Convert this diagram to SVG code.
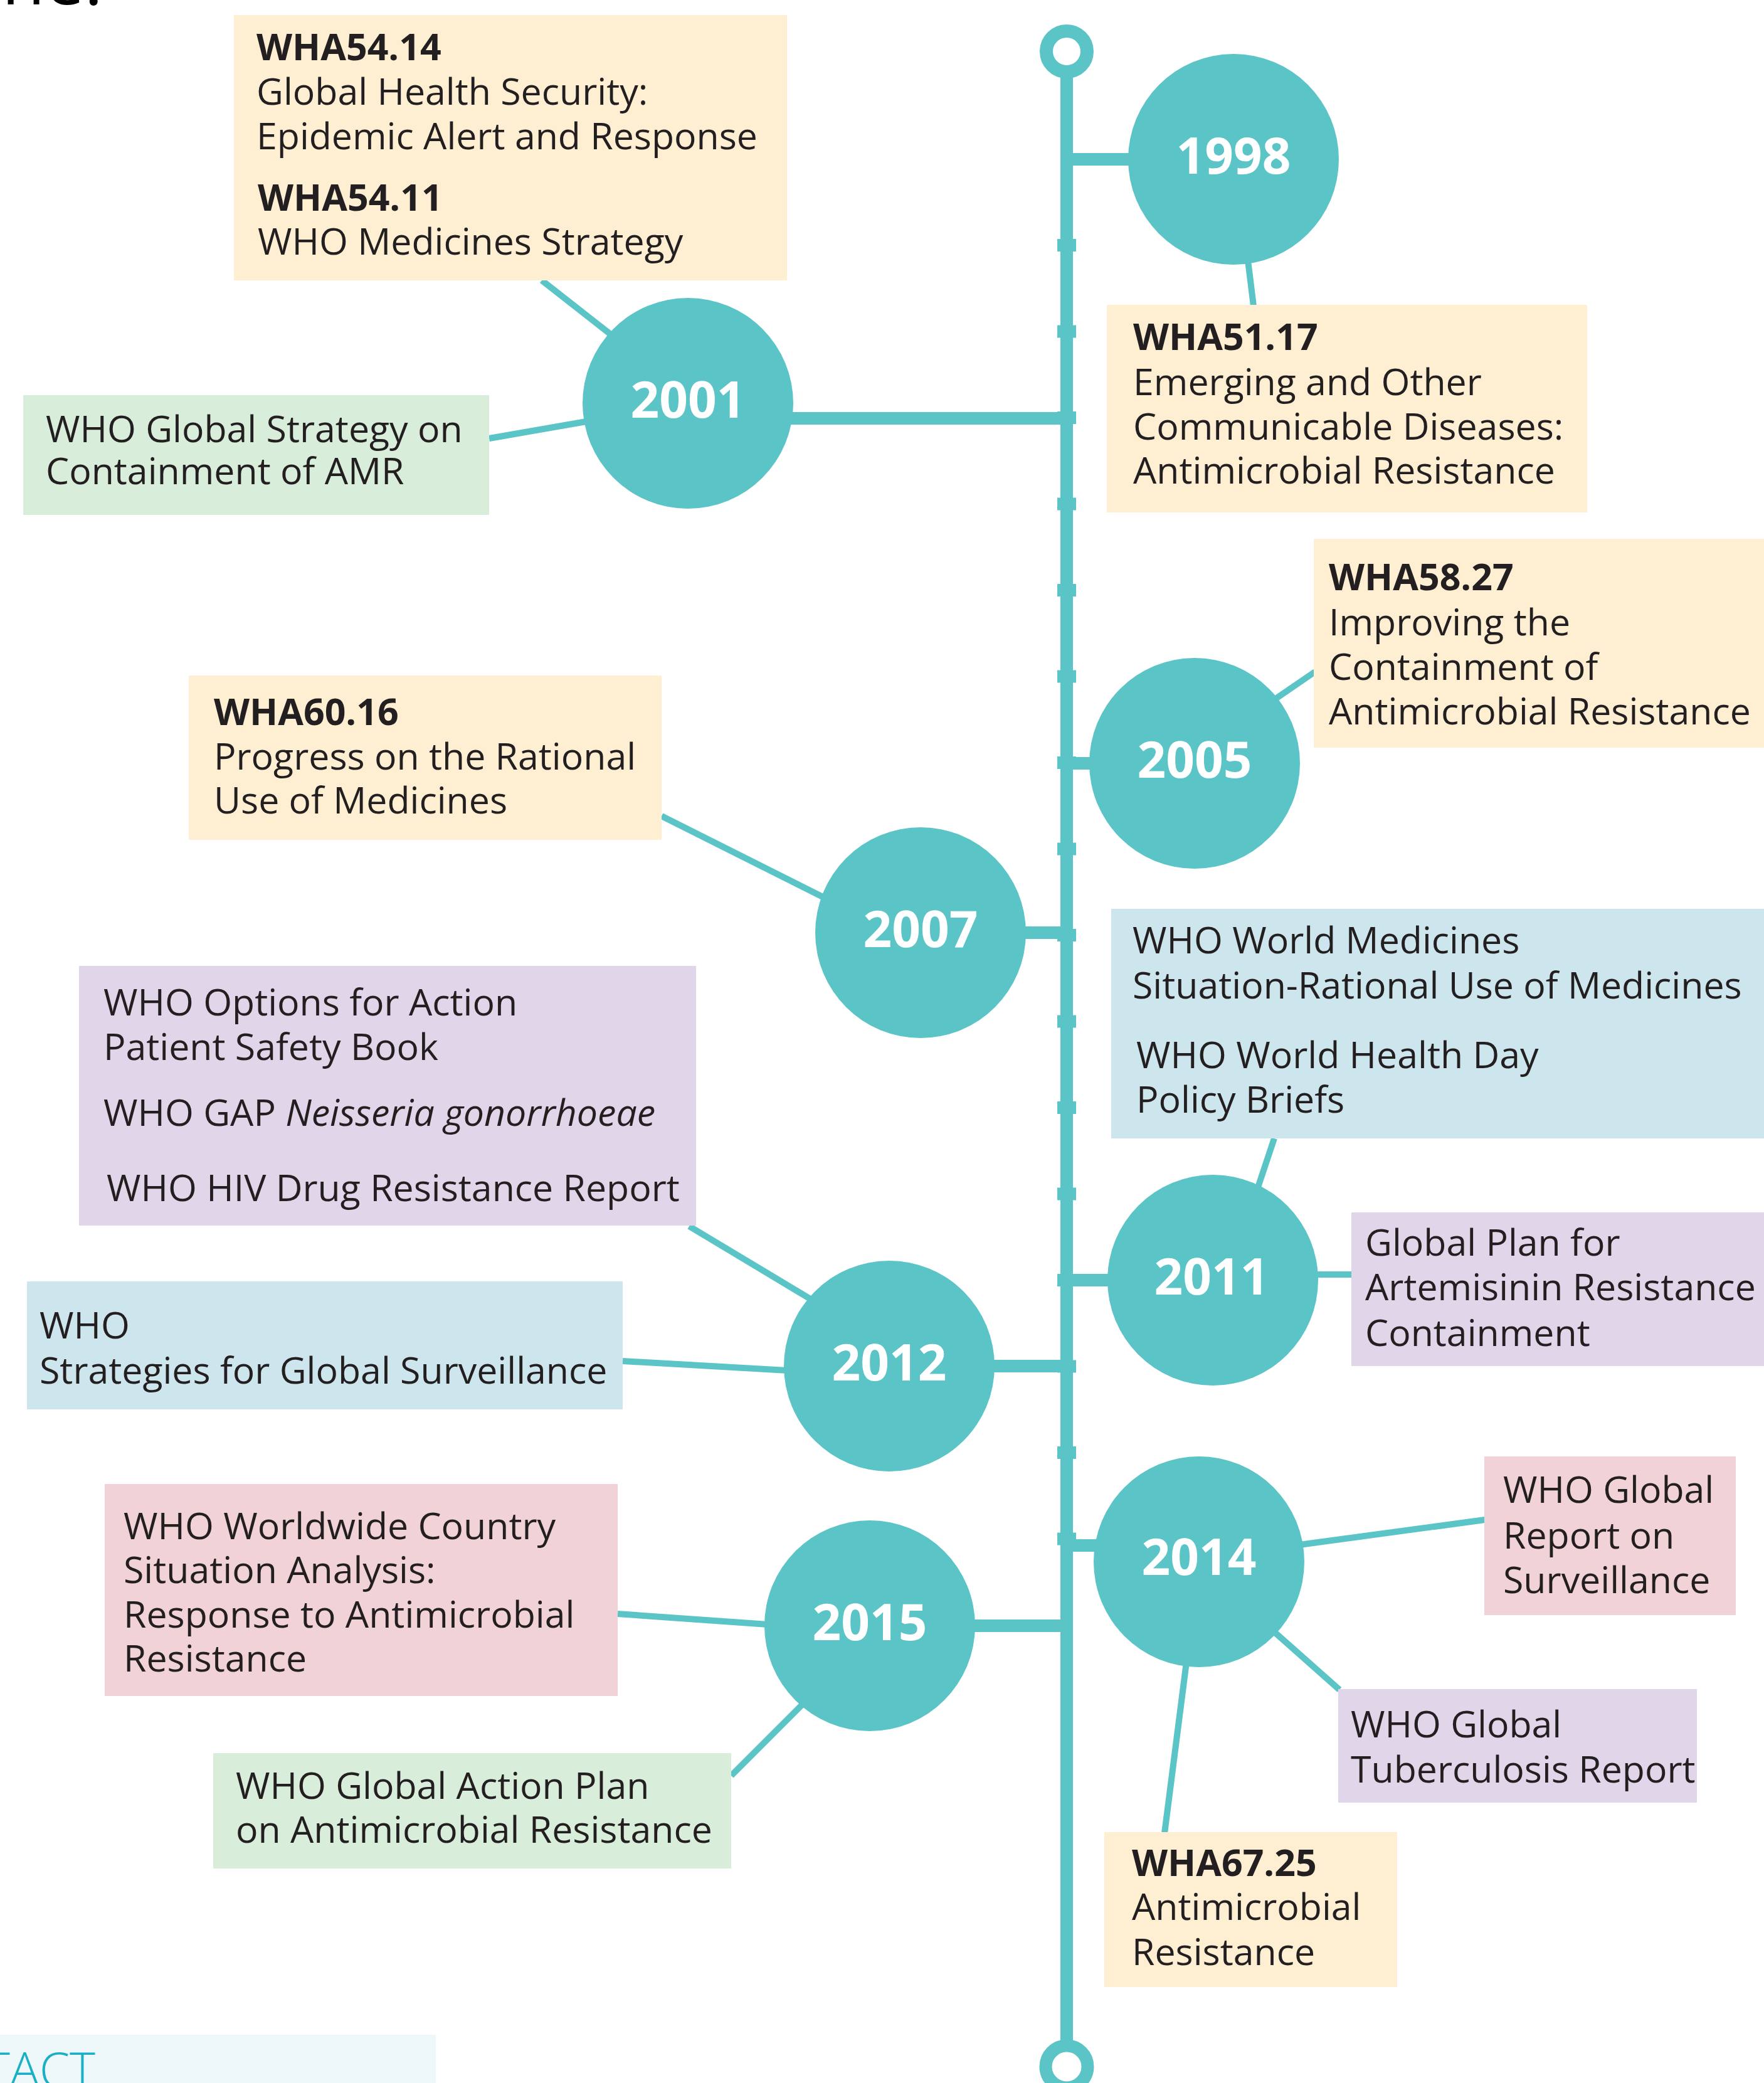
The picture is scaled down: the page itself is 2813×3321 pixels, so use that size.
<svg xmlns="http://www.w3.org/2000/svg" width="2813" height="3321" viewBox="0 0 2813 3321">
  <style>
    .teal { fill: #5BC4C6; }
    .link { stroke: #5BC4C6; stroke-width: 10; fill: none; }
    .bar { fill: #5BC4C6; }
    .peach { fill: #FEEFD3; }
    .green { fill: #D8EEDB; }
    .blue { fill: #CDE5EC; }
    .lilac { fill: #E1D6E9; }
    .pink { fill: #F1D2D6; }
    .t { font-family: "Open Sans", "Noto Sans", sans-serif; font-size: 59px; fill: #231F20; }
    .b { font-weight: 700; }
    .yr { font-family: "Open Sans", "Noto Sans", sans-serif; font-size: 80px; font-weight: 700; fill: #FFFFFF; text-anchor: middle; }
  </style>

  <!-- heading fragment at the top edge -->
  <text x="3" y="7" font-family="Open Sans, Noto Sans, sans-serif" font-size="112" fill="#000000">ne:</text>

  <!-- contact panel at the bottom edge -->
  <rect x="0" y="3244" width="695" height="77" fill="#EEF7F9"/>
  <text x="152" y="3328" font-family="Open Sans, Noto Sans, sans-serif" font-size="78" font-weight="300" fill="#19AFC4" text-anchor="end">TACT</text>

  <!-- timeline spine -->
  <g id="spine">
    <rect x="1691" y="120" width="20" height="3136" class="bar"/>
    <circle cx="1701" cy="82" r="32.5" fill="none" stroke="#5BC4C6" stroke-width="21"/>
    <circle cx="1701" cy="3295" r="33.5" fill="none" stroke="#5BC4C6" stroke-width="20"/>
    <g class="bar">
      <rect x="1686" y="381" width="30" height="20"/>
      <rect x="1686" y="518.5" width="30" height="20"/>
      <rect x="1686" y="656" width="30" height="20"/>
      <rect x="1686" y="793.5" width="30" height="20"/>
      <rect x="1686" y="931" width="30" height="20"/>
      <rect x="1686" y="1068.5" width="30" height="20"/>
      <rect x="1686" y="1206" width="30" height="20"/>
      <rect x="1686" y="1343.5" width="30" height="20"/>
      <rect x="1686" y="1481" width="30" height="20"/>
      <rect x="1686" y="1618.5" width="30" height="20"/>
      <rect x="1686" y="1756" width="30" height="20"/>
      <rect x="1686" y="1893.5" width="30" height="20"/>
      <rect x="1686" y="2031" width="30" height="20"/>
      <rect x="1686" y="2168.5" width="30" height="20"/>
      <rect x="1686" y="2306" width="30" height="20"/>
      <rect x="1686" y="2443.5" width="30" height="20"/>
    </g>
  </g>

  <!-- connectors: spine-to-year bars and year-to-box links -->
  <g id="connectors">
    <rect class="bar" x="1701" y="244" width="110" height="20"/>
    <rect class="bar" x="1255" y="657" width="446" height="20"/>
    <rect class="bar" x="1701" y="1207" width="50" height="20"/>
    <rect class="bar" x="1625" y="1477" width="76" height="20"/>
    <rect class="bar" x="1701" y="2031" width="75" height="20"/>
    <rect class="bar" x="1575" y="2168" width="126" height="20"/>
    <rect class="bar" x="1701" y="2454" width="55" height="20"/>
    <rect class="bar" x="1545" y="2582" width="156" height="20"/>

    <line class="link" x1="1990" y1="415" x2="1999" y2="488"/>
    <line class="link" x1="864" y1="447" x2="975" y2="534"/>
    <line class="link" x1="780" y1="699" x2="935" y2="672"/>
    <line class="link" x1="2030" y1="1117" x2="2097" y2="1071"/>
    <line class="link" x1="1055" y1="1301" x2="1316" y2="1432"/>
    <line class="link" x1="2032" y1="1815" x2="2005" y2="1896"/>
    <line class="link" x1="2095" y1="2032" x2="2157" y2="2032"/>
    <line class="link" x1="1099" y1="1955" x2="1294" y2="2072"/>
    <line class="link" x1="993" y1="2170" x2="1256" y2="2185"/>
    <line class="link" x1="2072" y1="2463" x2="2368" y2="2423"/>
    <line class="link" x1="2030" y1="2600" x2="2136" y2="2694"/>
    <line class="link" x1="1892" y1="2650" x2="1857" y2="2923"/>
    <line class="link" x1="985" y1="2573" x2="1225" y2="2590"/>
    <line class="link" x1="1166" y1="2831" x2="1283" y2="2714"/>
  </g>

  <!-- year nodes -->
  <g id="year-1998"><circle class="teal" cx="1967" cy="254" r="168"/><text class="yr" x="1967" y="277">1998</text></g>
  <g id="year-2001"><circle class="teal" cx="1097" cy="643" r="168"/><text class="yr" x="1097" y="666">2001</text></g>
  <g id="year-2005"><circle class="teal" cx="1905" cy="1217" r="168"/><text class="yr" x="1905" y="1240">2005</text></g>
  <g id="year-2007"><circle class="teal" cx="1468" cy="1487" r="168"/><text class="yr" x="1468" y="1510">2007</text></g>
  <g id="year-2011"><circle class="teal" cx="1934" cy="2041" r="168"/><text class="yr" x="1932" y="2064">2011</text></g>
  <g id="year-2012"><circle class="teal" cx="1418" cy="2178" r="168"/><text class="yr" x="1418" y="2201">2012</text></g>
  <g id="year-2014"><circle class="teal" cx="1912" cy="2490" r="168"/><text class="yr" x="1912" y="2511">2014</text></g>
  <g id="year-2015"><circle class="teal" cx="1387" cy="2592" r="168"/><text class="yr" x="1387" y="2615">2015</text></g>

  <!-- document boxes -->
  <g id="box-wha54">
    <rect class="peach" x="373" y="24" width="882" height="423"/>
    <text class="t"><tspan class="b" x="409" y="96">WHA54.14</tspan><tspan x="409" y="167">Global Health Security:</tspan><tspan x="409" y="238">Epidemic Alert and Response</tspan><tspan class="b" x="411" y="336">WHA54.11</tspan><tspan x="411" y="406">WHO Medicines Strategy</tspan></text>
  </g>

  <g id="box-amr-strategy">
    <rect class="green" x="37" y="630" width="743" height="191"/>
    <text class="t"><tspan x="73" y="705">WHO Global Strategy on</tspan><tspan x="73" y="772">Containment of AMR</tspan></text>
  </g>

  <g id="box-wha51">
    <rect class="peach" x="1765" y="486" width="766" height="331"/>
    <text class="t"><tspan class="b" x="1807" y="558">WHA51.17</tspan><tspan x="1807" y="630">Emerging and Other</tspan><tspan x="1807" y="701">Communicable Diseases:</tspan><tspan x="1807" y="771">Antimicrobial Resistance</tspan></text>
  </g>

  <g id="box-wha58">
    <rect class="peach" x="2095" y="859" width="718" height="333"/>
    <text class="t"><tspan class="b" x="2119" y="941">WHA58.27</tspan><tspan x="2119" y="1013">Improving the</tspan><tspan x="2119" y="1084">Containment of</tspan><tspan x="2119" y="1155">Antimicrobial Resistance</tspan></text>
  </g>

  <g id="box-wha60">
    <rect class="peach" x="301" y="1077" width="754" height="262"/>
    <text class="t"><tspan class="b" x="341" y="1156">WHA60.16</tspan><tspan x="341" y="1227">Progress on the Rational</tspan><tspan x="341" y="1297">Use of Medicines</tspan></text>
  </g>

  <g id="box-world-medicines">
    <rect class="blue" x="1772" y="1449" width="1041" height="366"/>
    <text class="t"><tspan x="1806" y="1520">WHO World Medicines</tspan><tspan x="1806" y="1592">Situation-Rational Use of Medicines</tspan></text>
    <text class="t"><tspan x="1812" y="1703">WHO World Health Day</tspan><tspan x="1812" y="1774">Policy Briefs</tspan></text>
  </g>

  <g id="box-artemisinin">
    <rect class="lilac" x="2155" y="1933" width="658" height="245"/>
    <text class="t"><tspan x="2177" y="2002">Global Plan for</tspan><tspan x="2177" y="2073">Artemisinin Resistance</tspan><tspan x="2177" y="2146">Containment</tspan></text>
  </g>

  <g id="box-options">
    <rect class="lilac" x="126" y="1540" width="984" height="414"/>
    <text class="t"><tspan x="165" y="1619">WHO Options for Action</tspan><tspan x="165" y="1690">Patient Safety Book</tspan></text>
    <text class="t" x="165" y="1795">WHO GAP <tspan font-style="italic">Neisseria gonorrhoeae</tspan></text>
    <text class="t" x="170" y="1915">WHO HIV Drug Resistance Report</text>
  </g>

  <g id="box-surveillance-strategies">
    <rect class="blue" x="43" y="2043" width="950" height="204"/>
    <text class="t"><tspan x="63" y="2134">WHO</tspan><tspan x="63" y="2206">Strategies for Global Surveillance</tspan></text>
  </g>

  <g id="box-surveillance-report">
    <rect class="pink" x="2367" y="2322" width="401" height="253"/>
    <text class="t"><tspan x="2397" y="2396">WHO Global</tspan><tspan x="2397" y="2469">Report on</tspan><tspan x="2397" y="2540">Surveillance</tspan></text>
  </g>

  <g id="box-tuberculosis">
    <rect class="lilac" x="2134" y="2693" width="572" height="181"/>
    <text class="t"><tspan x="2154" y="2770">WHO Global</tspan><tspan x="2154" y="2842">Tuberculosis Report</tspan></text>
  </g>

  <g id="box-wha67">
    <rect class="peach" x="1761" y="2921" width="467" height="247"/>
    <text class="t"><tspan class="b" x="1805" y="2991">WHA67.25</tspan><tspan x="1805" y="3061">Antimicrobial</tspan><tspan x="1805" y="3133">Resistance</tspan></text>
  </g>

  <g id="box-country-analysis">
    <rect class="pink" x="167" y="2366" width="818" height="338"/>
    <text class="t"><tspan x="197" y="2454">WHO Worldwide Country</tspan><tspan x="197" y="2524">Situation Analysis:</tspan><tspan x="197" y="2595">Response to Antimicrobial</tspan><tspan x="197" y="2665">Resistance</tspan></text>
  </g>

  <g id="box-action-plan">
    <rect class="green" x="340" y="2795" width="826" height="184"/>
    <text class="t"><tspan x="376" y="2868">WHO Global Action Plan</tspan><tspan x="376" y="2938">on Antimicrobial Resistance</tspan></text>
  </g>
</svg>
